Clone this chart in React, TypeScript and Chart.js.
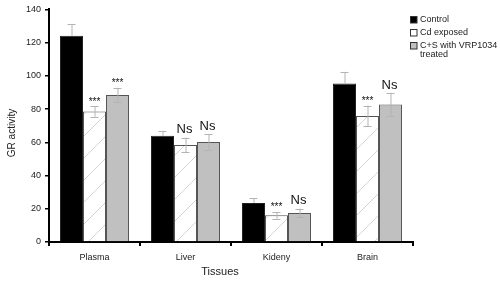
import React, { useEffect, useRef } from "react";
import { Chart, registerables } from "chart.js";

Chart.register(...registerables);

const categories = ["Plasma", "Liver", "Kideny", "Brain"];
const seriesNames = ["Control", "Cd exposed", "C+S with VRP1034"];
const controlValues = [124.2, 63.9, 23.5, 95.4];
const controlErrors = [6.8, 3.0, 3.0, 7.0];
const cdValues = [78.6, 58.4, 16.1, 75.9];
const cdErrors = [3.2, 4.4, 2.0, 6.2];
const csValues = [88.5, 60.2, 17.5, 82.8];
const csErrors = [4.3, 4.6, 2.6, 7.0];
const cdMarks = ["***", "Ns", "***", "***"];
const csMarks = ["***", "Ns", "Ns", "Ns"];
const yTicks = [0, 20, 40, 60, 80, 100, 120, 140];

const FONT = "'Liberation Sans', Arial, sans-serif";

export default function App() {
  const ref = useRef<HTMLCanvasElement | null>(null);

  useEffect(() => {
    document.body.style.margin = "0";
    const canvas = ref.current!;
    const S = 22;
    const pc = document.createElement("canvas");
    pc.width = S;
    pc.height = S;
    const p = pc.getContext("2d")!;
    p.fillStyle = "#ffffff";
    p.fillRect(0, 0, S, S);
    p.strokeStyle = "#d4d4d4";
    p.lineWidth = 1;
    p.beginPath();
    p.moveTo(-2, S + 2);
    p.lineTo(S + 2, -2);
    p.stroke();
    const ctx0 = canvas.getContext("2d")!;
    const pattern = ctx0.createPattern(pc, "repeat")!;

    const errs = [controlErrors, cdErrors, csErrors];
    const marks = [null, cdMarks, csMarks];

    const plugin = {
      id: "custom",
      afterDatasetsDraw(chart: any) {
        const ctx = chart.ctx;
        const y = chart.scales.y;
        ctx.save();
        chart.data.datasets.forEach((ds: any, i: number) => {
          const meta = chart.getDatasetMeta(i);
          meta.data.forEach((bar: any, j: number) => {
            const v = ds.data[j];
            const e = errs[i][j];
            const x = bar.x;
            const yt = y.getPixelForValue(v + e);
            const yb = i === 0 ? y.getPixelForValue(v) : y.getPixelForValue(v - e);
            ctx.strokeStyle = "#b4b4b4";
            ctx.lineWidth = 1;
            ctx.beginPath();
            ctx.moveTo(x + 0.5, yt);
            ctx.lineTo(x + 0.5, yb);
            ctx.moveTo(x - 4, Math.round(yt) + 0.5);
            ctx.lineTo(x + 4, Math.round(yt) + 0.5);
            if (i !== 0) {
              ctx.moveTo(x - 4, Math.round(yb) + 0.5);
              ctx.lineTo(x + 4, Math.round(yb) + 0.5);
            }
            ctx.stroke();
            const m = marks[i];
            if (m) {
              const s = m[j];
              ctx.fillStyle = "#111";
              ctx.textAlign = "center";
              ctx.textBaseline = "alphabetic";
              if (s === "Ns") {
                ctx.font = `13px ${FONT}`;
                ctx.fillText(s, x - 1, yt - 9 + 4.7);
              } else {
                ctx.font = `10px ${FONT}`;
                ctx.fillText(s, x, yt - 7 + 5.5);
              }
            }
          });
        });
        ctx.restore();
      },
      afterDraw(chart: any) {
        const ctx = chart.ctx;
        ctx.save();
        ctx.fillStyle = "#222";
        ctx.font = `11px ${FONT}`;
        ctx.textAlign = "center";
        ctx.textBaseline = "middle";
        ctx.fillText("Tissues", 220, 272);
        ctx.save();
        ctx.translate(12, 133);
        ctx.rotate(-Math.PI / 2);
        ctx.font = `10px ${FONT}`;
        ctx.fillText("GR activity", 0, 0);
        ctx.restore();
        const fills = ["#000000", "#ffffff", "#c0c0c0"];
        const ys = [19.5, 32.5, 45.5];
        ctx.font = `9px ${FONT}`;
        ctx.textAlign = "left";
        ctx.textBaseline = "middle";
        for (let k = 0; k < 3; k++) {
          ctx.fillStyle = fills[k];
          ctx.fillRect(410, ys[k] - 3.5, 7, 7);
          ctx.strokeStyle = "#333";
          ctx.lineWidth = 1;
          ctx.strokeRect(410.5, ys[k] - 3.5 + 0.5, 6.5, 6.5);
          ctx.fillStyle = "#222";
          ctx.fillText(seriesNames[k], 420, ys[k]);
        }
        ctx.fillText("treated", 420, 54.5);
        ctx.restore();
      },
    };

    const chart = new Chart(canvas, {
      type: "bar",
      data: {
        labels: categories,
        datasets: [
          {
            label: seriesNames[0],
            data: controlValues,
            backgroundColor: "#000000",
            borderColor: "#222222",
            borderWidth: 1,
          },
          {
            label: seriesNames[1],
            data: cdValues,
            backgroundColor: pattern as any,
            borderColor: "#555555",
            borderWidth: 1,
          },
          {
            label: seriesNames[2],
            data: csValues,
            backgroundColor: "#c0c0c0",
            borderColor: "#555555",
            borderWidth: 1,
          },
        ],
      },
      options: {
        animation: false,
        responsive: false,
        maintainAspectRatio: false,
        events: [],
        layout: { padding: { top: 9, right: 87, left: 0, bottom: 0 } },
        plugins: {
          legend: { display: false },
          tooltip: { enabled: false },
          title: { display: false },
        },
        datasets: {
          bar: { categoryPercentage: 0.758, barPercentage: 1 },
        },
        scales: {
          x: {
            offset: true,
            grid: {
              offset: true,
              display: true,
              drawOnChartArea: false,
              drawTicks: true,
              tickLength: 4,
              color: "#000",
              lineWidth: 2,
            },
            border: { display: true, color: "#000", width: 2 },
            ticks: {
              color: "#222",
              font: { family: FONT, size: 9 },
              padding: 6,
            },
            afterFit(scale: any) {
              scale.height = 40;
            },
          },
          y: {
            min: 0,
            max: 140,
            afterBuildTicks(scale: any) {
              scale.ticks = yTicks.map((v) => ({ value: v }));
            },
            grid: {
              display: true,
              drawOnChartArea: false,
              drawTicks: true,
              tickLength: 4,
              color: "#000",
              lineWidth: 1.5,
            },
            border: { display: true, color: "#000", width: 2 },
            ticks: {
              color: "#222",
              font: { family: FONT, size: 9 },
              padding: 4,
            },
            afterFit(scale: any) {
              scale.width = 49;
            },
          },
        },
      },
      plugins: [plugin],
    });
    return () => chart.destroy();
  }, []);

  return (
    <div style={{ position: "absolute", left: 0, top: 0, width: 500, height: 282, background: "#fff" }}>
      <canvas ref={ref} width={500} height={282} style={{ width: 500, height: 282 }} />
    </div>
  );
}
